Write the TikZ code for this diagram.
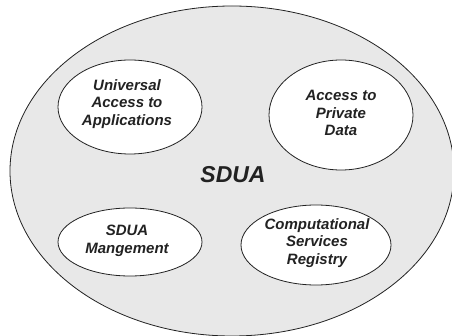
\documentclass[tikz,border=0pt]{standalone}
\usepackage{fontspec}
\setmainfont{Liberation Sans}
\usetikzlibrary{shapes.geometric}
\definecolor{bggray}{HTML}{E8E8E8}
\definecolor{ink}{HTML}{222222}
\tikzset{
  outer/.style={ellipse,draw=ink,line width=0.8pt,fill=bggray,inner sep=0pt},
  inner/.style={ellipse,draw=ink,line width=0.8pt,fill=white,inner sep=0pt},
  itext/.style={align=center,font=\fontsize{15}{17.8}\selectfont\bfseries\itshape,text=ink,inner sep=0pt},
  title/.style={font=\fontsize{23}{26}\selectfont\bfseries\itshape,text=ink}
}
\begin{document}
\begin{tikzpicture}[x=1pt,y=-1pt]
\useasboundingbox (0,0) rectangle (452,336);
\clip (0,0) rectangle (452,336);
\node[outer,minimum width=444pt,minimum height=330pt] (sdua) at (232,171) {};
\node[title] (lbl) at (233,175) {SDUA};
\node[inner,minimum width=144pt,minimum height=94pt] (uaa) at (130,107) {};
\node[itext] (uaat) at (127,104) {Universal\\Access to\\Applications};
\node[inner,minimum width=144pt,minimum height=110pt] (apd) at (341,115) {};
\node[itext] (apdt) at (341,113) {Access to\\Private\\Data};
\node[inner,minimum width=144pt,minimum height=68pt] (mgmt) at (130,242) {};
\node[itext] (mgmtt) at (127,241) {SDUA\\Mangement};
\node[inner,minimum width=150pt,minimum height=80pt] (csr) at (316,245) {};
\node[itext] (csrt) at (317,243) {Computational\\Services\\Registry};
\end{tikzpicture}
\end{document}
